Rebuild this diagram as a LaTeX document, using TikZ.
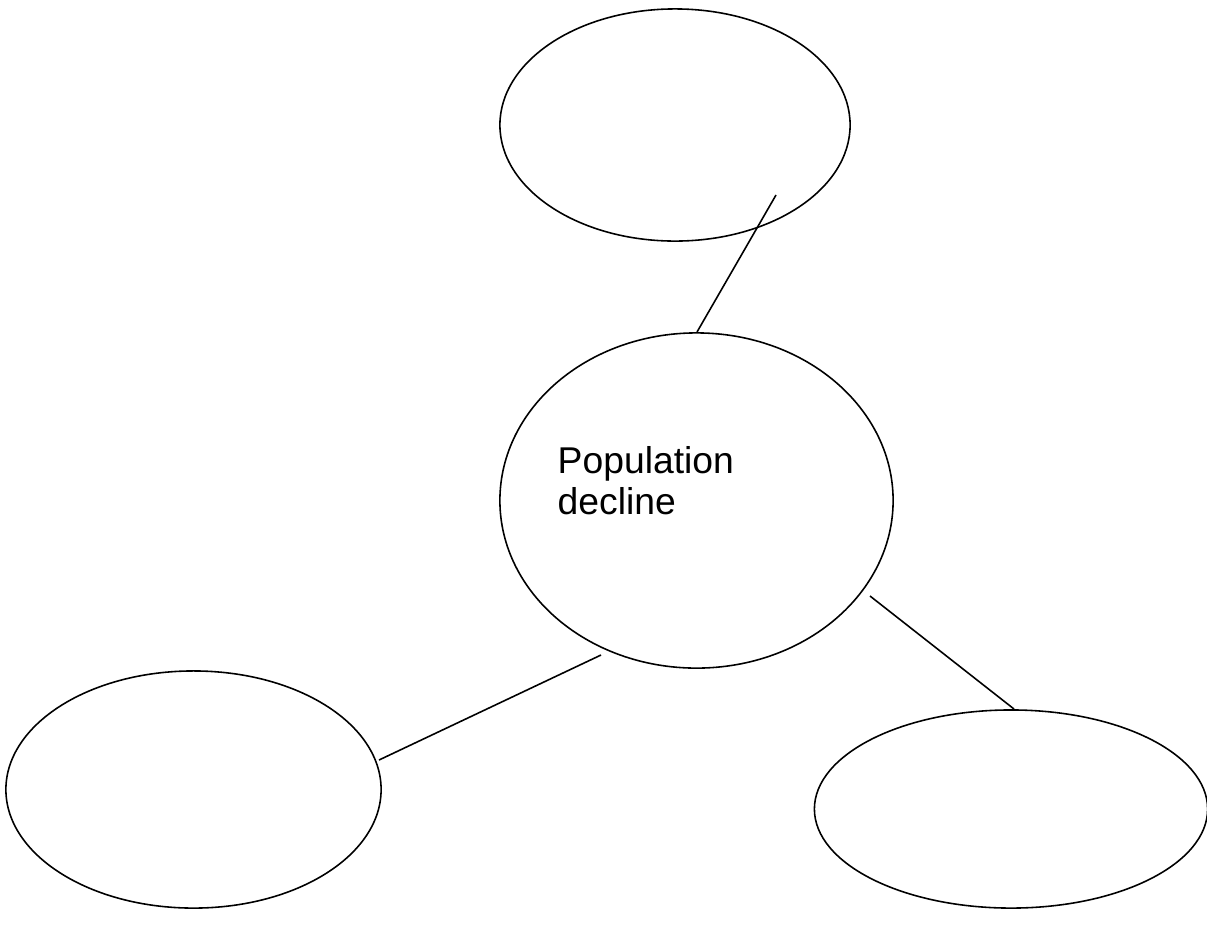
\documentclass[tikz,border=0pt]{standalone}
\usepackage{fontspec}
\setmainfont{Liberation Sans}
\usetikzlibrary{shapes.geometric}
\begin{document}
\begin{tikzpicture}[x=0.01cm,y=-0.01cm,
  bubble/.style={draw,ellipse,inner sep=0pt,line width=0.45pt},
  link/.style={draw,line width=0.45pt}]
\useasboundingbox (0,0) rectangle (1207,939);
\node[bubble,minimum width=3.5cm,minimum height=2.32cm] (top) at (675,125) {};
\node[bubble,minimum width=3.93cm,minimum height=3.35cm] (mid) at (696.5,500.5) {};
\node[bubble,minimum width=3.75cm,minimum height=2.37cm] (left) at (193.5,789.5) {};
\node[bubble,minimum width=3.93cm,minimum height=1.98cm] (right) at (1011,809) {};
\node[anchor=base west,align=left,font=\fontsize{10.6}{11.4}\selectfont,inner sep=0pt] (label) at (557,514) {Population\\decline};
\coordinate (topend) at (776,195);
\coordinate (midtop) at (697,332);
\coordinate (midright) at (870,596);
\coordinate (rightend) at (1014,709);
\coordinate (midleft) at (601,655);
\coordinate (leftend) at (379,760);
\draw[link] (topend) -- (midtop);
\draw[link] (midright) -- (rightend);
\draw[link] (midleft) -- (leftend);
\end{tikzpicture}
\end{document}
